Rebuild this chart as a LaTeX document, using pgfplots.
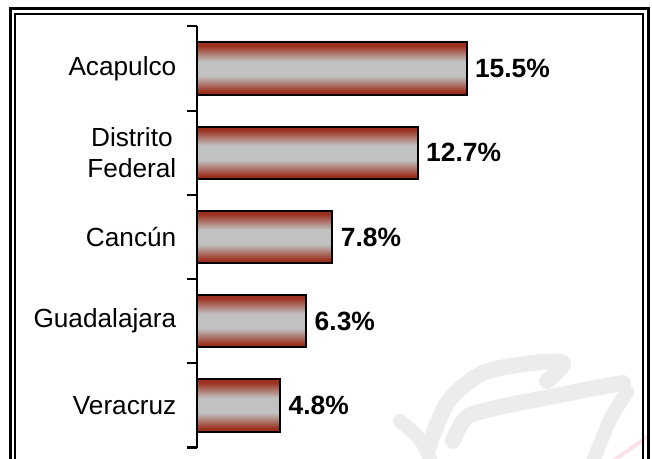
\documentclass[border=0pt]{standalone}
\usepackage{pgfplots}
\pgfplotsset{compat=1.18}
\usepackage{fontspec}
\setmainfont{Liberation Sans}
\definecolor{barred}{RGB}{155,48,30}
\definecolor{bargray}{RGB}{193,193,193}
\definecolor{wm}{RGB}{236,236,236}
\definecolor{wmpink}{RGB}{250,226,232}
\pgfdeclareverticalshading{barshade}{100bp}{color(0bp)=(barred); color(28bp)=(barred); color(43bp)=(bargray); color(57bp)=(bargray); color(72bp)=(barred); color(100bp)=(barred)}
\pgfplotsset{mybar/.style={xbar, bar width=0.62, bar shift=0pt, draw=black, line width=2bp,
  shading=barshade,
  nodes near coords, point meta=explicit symbolic,
  every node near coord/.append style={font=\bfseries\fontsize{26.5}{30}\selectfont, text=black, anchor=west, inner sep=0pt, xshift=7.5bp}}}
\begin{document}
\begin{tikzpicture}
\useasboundingbox (0,0) rectangle (652bp,459bp);
\begin{scope}[x=1bp,y=1bp]
\clip (0,0) rectangle (652,459);
% watermark
\draw[line width=16, wm, line cap=round, line join=round] plot[smooth] coordinates {(428,10) (448,57) (483,86) (533,96) (563,96) (547,78)};
\draw[line width=16, wm, line cap=round, line join=round] plot[smooth] coordinates {(453,18) (467,42) (500,52) (550,62) (600,72) (623,76)};
\draw[line width=14, wm, line cap=round] plot[smooth] coordinates {(400,38) (420,20) (430,0)};
\draw[line width=14, wm, line cap=round] plot[smooth] coordinates {(627,67) (610,39) (592,-5)};
\draw[line width=4, wmpink] (613,-2) -- (650,24);
% frame
\draw[line width=3.5] (10.5,-5) -- (10.5,450.5) -- (648.5,450.5) -- (648.5,-5);
\draw[line width=2] (15,-5) -- (15,445) -- (643,445) -- (643,-5);
\end{scope}
\begin{axis}[at={(196.5bp,11.5bp)}, anchor=south west, scale only axis,
  width=435.5bp, height=421bp,
  xmin=0, xmax=25, ymin=-0.5, ymax=4.5,
  axis x line=none, axis y line*=left,
  y axis line style={line width=2bp, black},
  xtick=\empty,
  ytick={0,1,2,3,4},
  yticklabels={Veracruz,Guadalajara,Cancún,{Distrito\\Federal},Acapulco},
  yticklabel style={align=center, font=\fontsize{26.3}{31}\selectfont, inner sep=0pt, xshift=-20bp},
  major tick length=0pt,
  minor ytick={-0.5,0.5,1.5,2.5,3.5,4.5},
  minor tick length=9bp,
  tick align=outside,
  minor tick style={line width=2bp, black},
  clip=false]
\addplot[mybar] coordinates {(15.5,4) [15.5\%]};
\addplot[mybar] coordinates {(12.7,3) [12.7\%]};
\addplot[mybar] coordinates {(7.8,2) [7.8\%]};
\addplot[mybar] coordinates {(6.3,1) [6.3\%]};
\addplot[mybar] coordinates {(4.8,0) [4.8\%]};
\end{axis}
\end{tikzpicture}
\end{document}
